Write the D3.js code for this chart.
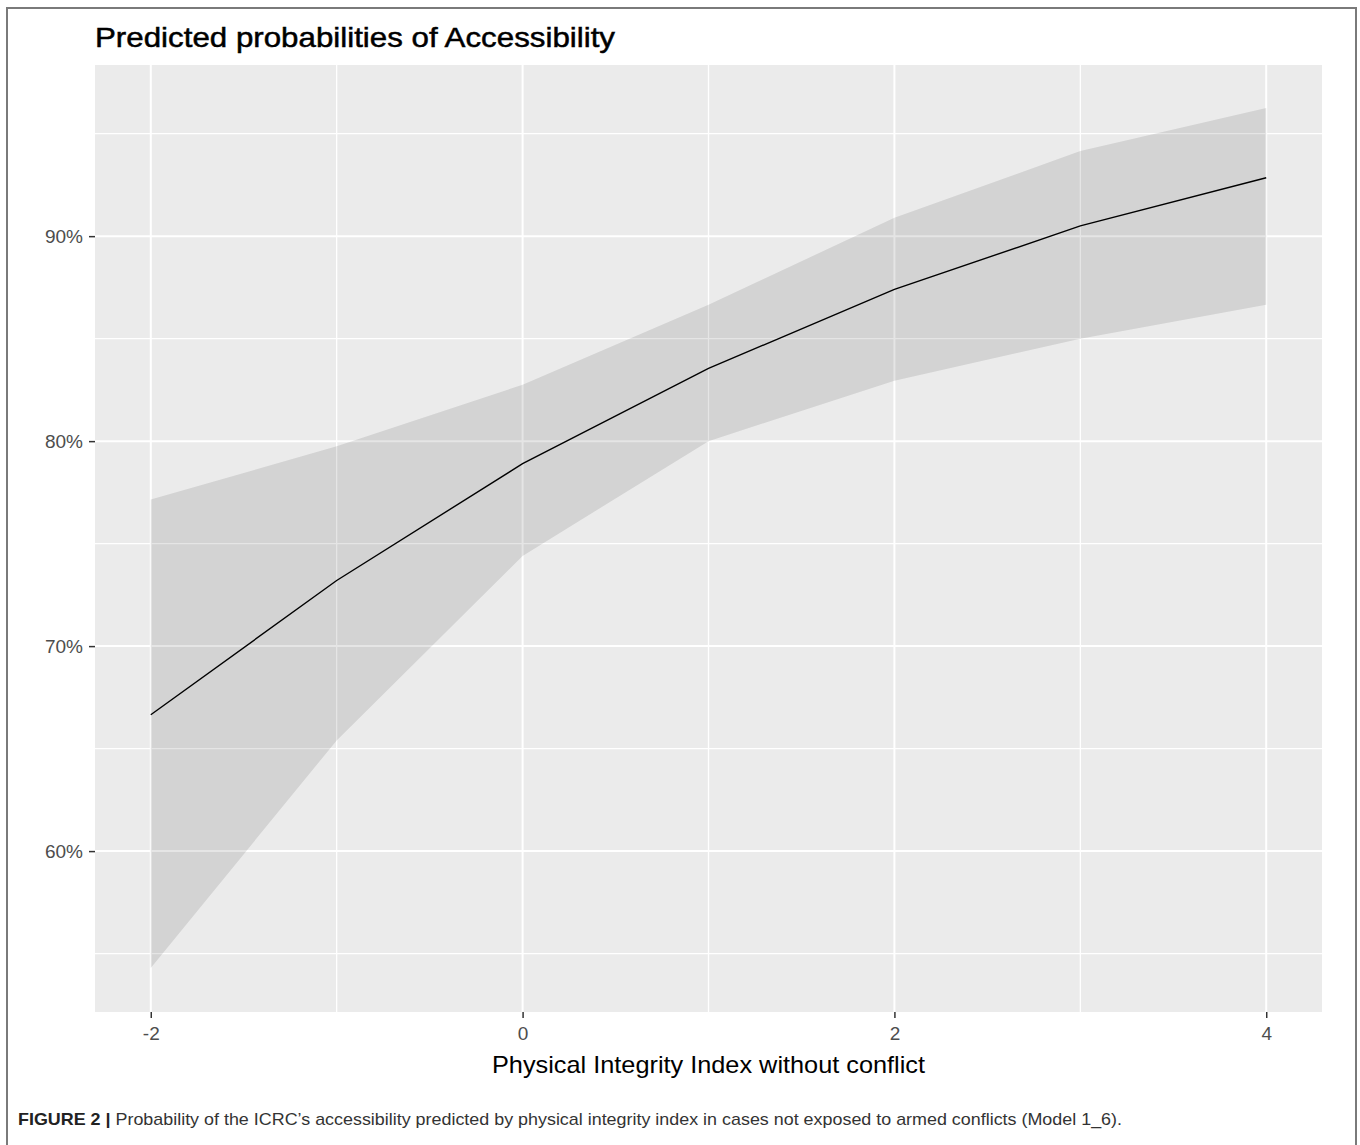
<!DOCTYPE html>
<html>
<head>
<meta charset="utf-8">
<script src="https://d3js.org/d3.v7.min.js"></script>
<style>
  html, body { margin: 0; padding: 0; background: #fff; }
  svg { display: block; font-family: "Liberation Sans", Arial, sans-serif; }
</style>
</head>
<body>
<svg id="chart" width="1360" height="1145"></svg>
<script>
// ---- data ----
const xValues   = [-2, -1, 0, 1, 2, 3, 4];
const predicted = [66.65, 73.2, 78.9, 83.55, 87.4, 90.5, 92.85];
const upperCI   = [77.15, 79.75, 82.75, 86.65, 90.9, 94.15, 96.25];
const lowerCI   = [54.3, 65.4, 74.4, 80.0, 82.95, 85.0, 86.65];
const xTicks      = [-2, 0, 2, 4];
const xMinorTicks = [-1, 1, 3];
const yTicks      = [60, 70, 80, 90];
const yMinorTicks = [55, 65, 75, 85, 95];
const titleText   = "Predicted probabilities of Accessibility";
const xTitleText  = "Physical Integrity Index without conflict";
const captionBold = "FIGURE 2 |";
const captionRest = " Probability of the ICRC\u2019s accessibility predicted by physical integrity index in cases not exposed to armed conflicts (Model 1_6).";

const rows = xValues.map((x, i) => ({x, p: predicted[i], lo: lowerCI[i], hi: upperCI[i]}));

const svg = d3.select("#chart");
const panel = {left: 95, right: 1322, top: 65, bottom: 1012};

// frame around figure
svg.append("path")
  .attr("d", "M7,1145 L7,8 L1356,8 L1356,1145")
  .attr("fill", "none").attr("stroke", "#7a7a7a").attr("stroke-width", 2);

const x = d3.scaleLinear().domain([-2.3, 4.3]).range([panel.left, panel.right]);
const y = d3.scaleLinear().domain([52.15, 98.35]).range([panel.bottom, panel.top]);

// panel background
svg.append("rect")
  .attr("x", panel.left).attr("y", panel.top)
  .attr("width", panel.right - panel.left).attr("height", panel.bottom - panel.top)
  .attr("fill", "#ebebeb");

const grid = svg.append("g");
grid.selectAll(".ymin").data(yMinorTicks).join("line")
  .attr("x1", panel.left).attr("x2", panel.right)
  .attr("y1", d => y(d)).attr("y2", d => y(d))
  .attr("stroke", "#fff").attr("stroke-width", 1.3);
grid.selectAll(".xmin").data(xMinorTicks).join("line")
  .attr("y1", panel.top).attr("y2", panel.bottom)
  .attr("x1", d => x(d)).attr("x2", d => x(d))
  .attr("stroke", "#fff").attr("stroke-width", 1.3);
grid.selectAll(".ymaj").data(yTicks).join("line")
  .attr("x1", panel.left).attr("x2", panel.right)
  .attr("y1", d => y(d)).attr("y2", d => y(d))
  .attr("stroke", "#fff").attr("stroke-width", 2);
grid.selectAll(".xmaj").data(xTicks).join("line")
  .attr("y1", panel.top).attr("y2", panel.bottom)
  .attr("x1", d => x(d)).attr("x2", d => x(d))
  .attr("stroke", "#fff").attr("stroke-width", 2);

// ribbon
const area = d3.area().x(d => x(d.x)).y0(d => y(d.lo)).y1(d => y(d.hi));
svg.append("path").datum(rows)
  .attr("d", area)
  .attr("fill", "#000").attr("fill-opacity", 0.1);

// line
const line = d3.line().x(d => x(d.x)).y(d => y(d.p));
svg.append("path").datum(rows)
  .attr("d", line)
  .attr("fill", "none").attr("stroke", "#000").attr("stroke-width", 1.4);

// axes
const xAxis = svg.append("g")
  .attr("transform", `translate(0,${panel.bottom})`)
  .call(d3.axisBottom(x).tickValues(xTicks).tickSize(6).tickPadding(9).tickFormat(d => String(d)));
const yAxis = svg.append("g")
  .attr("transform", `translate(${panel.left},0)`)
  .call(d3.axisLeft(y).tickValues(yTicks).tickSize(6).tickPadding(6).tickFormat(d => d + "%"));
[xAxis, yAxis].forEach(g => {
  g.select(".domain").remove();
  g.selectAll(".tick line").attr("stroke", "#333").attr("stroke-width", 1.5);
  g.selectAll(".tick text").attr("fill", "#4d4d4d")
    .attr("font-family", "'Liberation Sans', Arial, sans-serif")
    .attr("font-size", 19);
});

// title
svg.append("text")
  .attr("x", 95).attr("y", 47)
  .attr("font-size", 28).attr("fill", "#000")
  .attr("stroke", "#000").attr("stroke-width", 0.5)
  .attr("textLength", 520).attr("lengthAdjust", "spacingAndGlyphs")
  .text(titleText);

// x axis title
svg.append("text")
  .attr("x", (panel.left + panel.right) / 2).attr("y", 1073)
  .attr("text-anchor", "middle")
  .attr("font-size", 24).attr("fill", "#000")
  .attr("textLength", 433).attr("lengthAdjust", "spacingAndGlyphs")
  .text(xTitleText);

// caption
const cap = svg.append("text")
  .attr("x", 18).attr("y", 1125)
  .attr("font-size", 17).attr("fill", "#333")
  .attr("font-family", "Arial, 'Liberation Sans', sans-serif")
  .attr("textLength", 1104).attr("lengthAdjust", "spacingAndGlyphs");
cap.append("tspan").attr("font-weight", "bold").attr("fill", "#222").text(captionBold);
cap.append("tspan").text(captionRest);
</script>
</body>
</html>
